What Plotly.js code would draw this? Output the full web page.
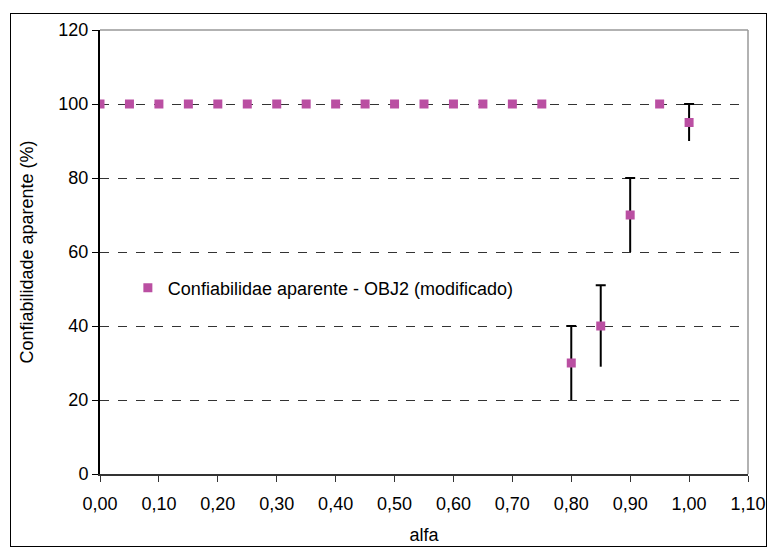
<!DOCTYPE html>
<html>
<head>
<meta charset="utf-8">
<script src="https://cdn.plot.ly/plotly-3.0.1.min.js"></script>
<style>
html,body{margin:0;padding:0;background:#fff;}
#wrap{position:relative;width:769px;height:548px;}
#chart{position:absolute;left:0;top:0;width:769px;height:548px;}
#frame{position:absolute;left:10px;top:13px;width:755px;height:532px;border:1px solid #000;pointer-events:none;}
</style>
</head>
<body>
<div id="wrap"><div id="chart"></div><div id="frame"></div></div>
<script>
const alfa = [0.00,0.05,0.10,0.15,0.20,0.25,0.30,0.35,0.40,0.45,0.50,0.55,0.60,0.65,0.70,0.75,0.80,0.85,0.90,0.95,1.00];
const confiab = [100,100,100,100,100,100,100,100,100,100,100,100,100,100,100,100,30,40,70,100,95];
const errPlus = [0,0,0,0,0,0,0,0,0,0,0,0,0,0,0,0,10,11,10,0,5];
const errMinus = [0,0,0,0,0,0,0,0,0,0,0,0,0,0,0,0,10,11,10,0,5];
const seriesName = 'Confiabilidae aparente - OBJ2 (modificado)';
const xTitle = 'alfa';
const yTitle = 'Confiabilidade aparente (%)';

const idx = alfa.map((v,i)=>i).filter(i=>errPlus[i]>0||errMinus[i]>0);
const ex = idx.map(i=>alfa[i]);
const ey = idx.map(i=>confiab[i]);

const traces = [
  // error bar stems (no caps)
  {x:ex, y:ey, type:'scatter', mode:'markers', showlegend:false, hoverinfo:'skip',
   marker:{color:'rgba(0,0,0,0)', size:1},
   error_y:{type:'data', symmetric:false, array:idx.map(i=>errPlus[i]), arrayminus:idx.map(i=>errMinus[i]),
            color:'#000', thickness:2, width:0}},
  // top caps only (zero-length bar at the upper end)
  {x:ex, y:idx.map(i=>confiab[i]+errPlus[i]), type:'scatter', mode:'markers', showlegend:false, hoverinfo:'skip',
   marker:{color:'rgba(0,0,0,0)', size:1},
   error_y:{type:'data', array:idx.map(()=>0), color:'#000', thickness:2, width:5}},
  {x:alfa, y:confiab, type:'scatter', mode:'markers', name:seriesName,
   marker:{symbol:'square', size:9, color:'#BA4FA2'}}
];

const layout = {
  width:769, height:548,
  margin:{l:100, r:21, t:30, b:74},
  paper_bgcolor:'#fff', plot_bgcolor:'#fff',
  separators:', ',
  font:{family:'Liberation Sans, Arial, sans-serif', size:18, color:'#000'},
  xaxis:{range:[0,1.1], dtick:0.1, tick0:0, tickformat:'.2f', showgrid:false, zeroline:false,
         showline:true, linecolor:'#333', linewidth:2, ticks:'outside', ticklen:6, tickcolor:'#333', tickwidth:1,
         ticklabelstandoff:6,
         title:{text:xTitle, font:{size:18}, standoff:16}},
  yaxis:{range:[0,120], dtick:20, tick0:0, showgrid:true, gridcolor:'#333', griddash:'dash', gridwidth:1,
         zeroline:false, showline:true, linecolor:'#000', linewidth:2, ticks:'outside', ticklen:6,
         tickcolor:'#000', tickwidth:1, title:{text:yTitle, font:{size:18}, standoff:20}},
  shapes:[
    {type:'line', xref:'paper', yref:'paper', x0:0, x1:1, y0:1, y1:1, line:{color:'#999', width:1.5}, layer:'above'},
    {type:'line', xref:'paper', yref:'paper', x0:1, x1:1, y0:0, y1:1, line:{color:'#999', width:1.5}, layer:'above'}
  ],
  legend:{x:0.043, y:0.419, xanchor:'left', yanchor:'middle', bgcolor:'rgba(0,0,0,0)',
          font:{size:18}},
  showlegend:true
};
Plotly.newPlot('chart', traces, layout, {displayModeBar:false, staticPlot:true});
</script>
</body>
</html>
